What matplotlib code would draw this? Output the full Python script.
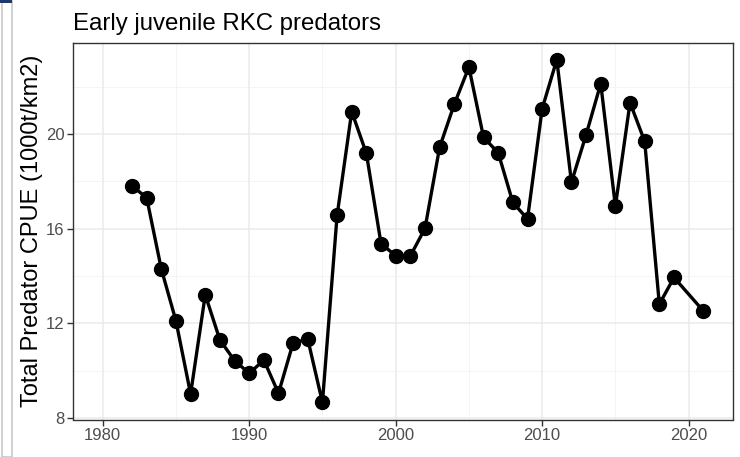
import matplotlib
matplotlib.use("Agg")
import matplotlib.pyplot as plt
from matplotlib.patches import Rectangle

years = [1982, 1983, 1984, 1985, 1986, 1987, 1988, 1989, 1990, 1991,
         1992, 1993, 1994, 1995, 1996, 1997, 1998, 1999, 2000, 2001,
         2002, 2003, 2004, 2005, 2006, 2007, 2008, 2009, 2010, 2011,
         2012, 2013, 2014, 2015, 2016, 2017, 2018, 2019, 2021]
cpue = [17.81, 17.31, 14.30, 12.10, 9.02, 13.21, 11.30, 10.43, 9.89, 10.45,
        9.05, 11.18, 11.33, 8.66, 16.56, 20.95, 19.18, 15.37, 14.86, 14.85,
        16.01, 19.44, 21.26, 22.83, 19.86, 19.21, 17.11, 16.41, 21.07, 23.14,
        17.96, 19.97, 22.13, 16.95, 21.33, 19.69, 12.81, 13.94, 12.53]
x_ticks = [1980, 1990, 2000, 2010, 2020]
x_minor = [1985, 1995, 2005, 2015]
y_ticks = [8, 12, 16, 20]
y_minor = [10, 14, 18, 22]
title = "Early juvenile RKC predators"
ylabel = "Total Predator CPUE (1000t/km2)"

plt.rcParams['font.family'] = ['Liberation Sans', 'DejaVu Sans']

W, H = 740, 457
fig = plt.figure(figsize=(W / 100, H / 100), dpi=100)
ax = fig.add_axes([72.7 / W, 1 - 419.5 / H, (733.3 - 72.7) / W, (419.5 - 42.7) / H])

# screenshot frame artifacts
fig.patches.append(Rectangle((1.5 / W, 0), 10 / W, 1 - 1 / H, transform=fig.transFigure,
                             fill=False, edgecolor='#c8c8c8', linewidth=1.2))
fig.patches.append(Rectangle((0, 1 - 3 / H), 12 / W, 3 / H, transform=fig.transFigure,
                             facecolor='#1f3a68', edgecolor='none'))

for v in x_minor:
    ax.axvline(v, color='#f3f3f3', lw=0.6, zorder=0)
for v in y_minor:
    ax.axhline(v, color='#f3f3f3', lw=0.6, zorder=0)
for v in x_ticks:
    ax.axvline(v, color='#ebebeb', lw=1.1, zorder=0)
for v in y_ticks:
    ax.axhline(v, color='#ebebeb', lw=1.1, zorder=0)

ax.plot(years, cpue, color='black', lw=2.4, marker='o', markersize=10, zorder=3)

ax.set_xlim(1977.95, 2023.05)
ax.set_ylim(7.94, 23.86)
ax.set_xticks(x_ticks)
ax.set_yticks(y_ticks)
ax.tick_params(axis='both', direction='out', length=4, width=1.0, color='#333333',
               labelcolor='#4d4d4d', labelsize=12, pad=2)
for s in ax.spines.values():
    s.set_color('#333333')
    s.set_linewidth(1.0)

ax.set_ylabel(ylabel, fontsize=17, color='black', labelpad=2)
ax.set_title(title, loc='left', fontsize=17.3, color='black', pad=9)

fig.savefig("out.png", dpi=100)
